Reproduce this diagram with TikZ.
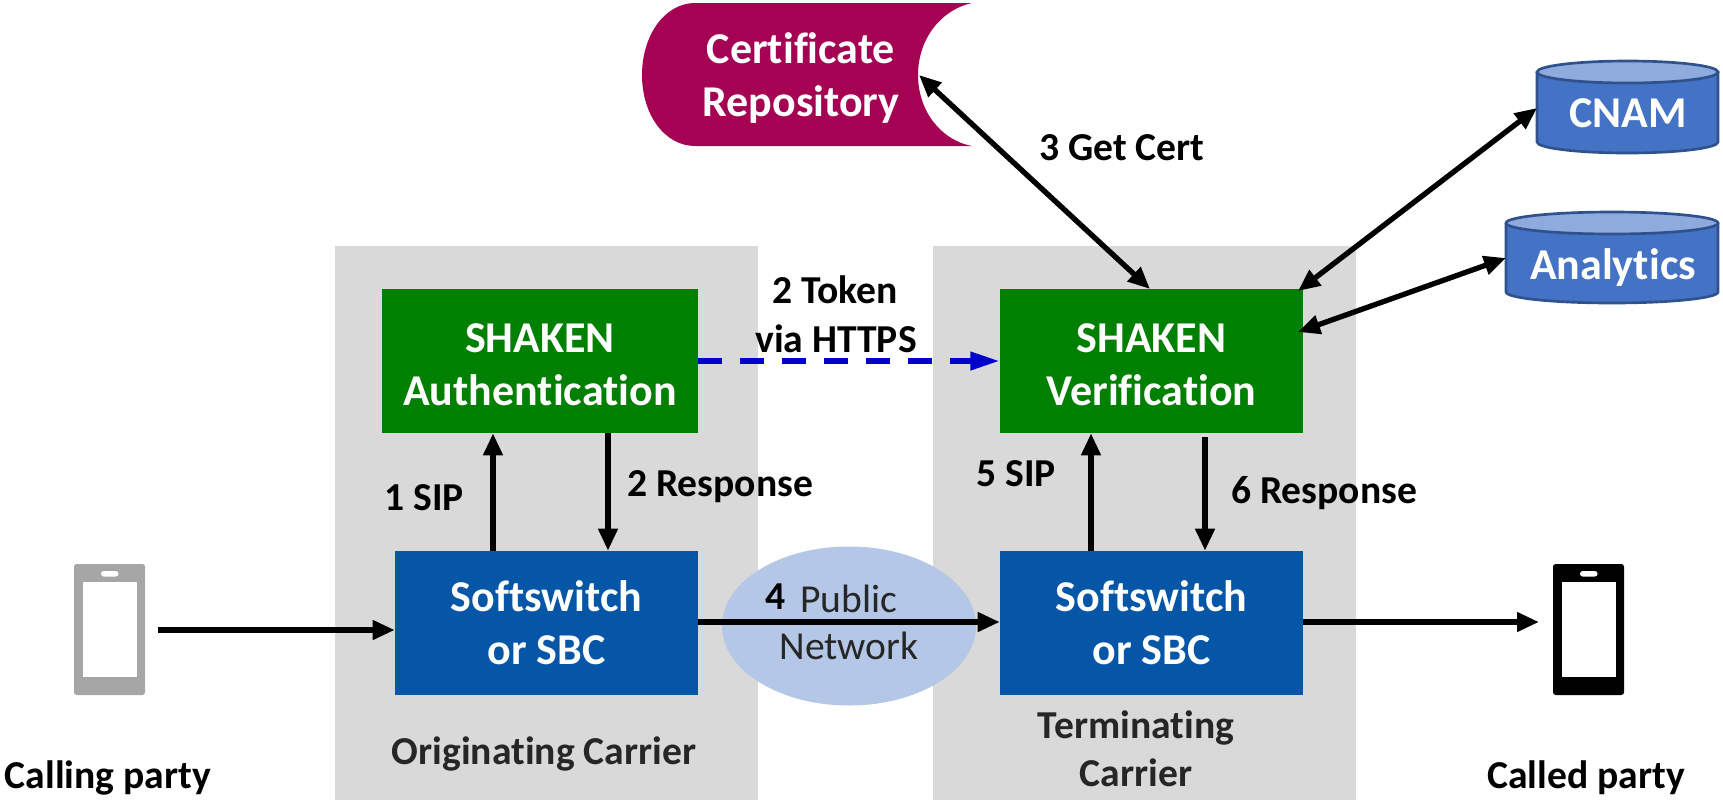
\documentclass[tikz,border=0pt]{standalone}
\usepackage{fontspec}
\setmainfont[Ligatures=NoCommon]{Carlito}
\usetikzlibrary{arrows.meta,shapes.geometric}
\definecolor{panel}{HTML}{D9D9D9}
\definecolor{gbox}{HTML}{008000}
\definecolor{bbox}{HTML}{0556A7}
\definecolor{repo}{HTML}{A50254}
\definecolor{cylf}{HTML}{4472C4}
\definecolor{cylt}{HTML}{8FAADC}
\definecolor{cyld}{HTML}{2F528F}
\definecolor{cloudc}{HTML}{B4C7E7}
\definecolor{phoneg}{HTML}{A6A6A6}
\definecolor{dashb}{HTML}{0000CC}
\newcommand{\lift}{\rule{0pt}{27pt}}
\tikzset{
  every node/.style={font=\fontsize{33}{34}\selectfont\bfseries, align=center, inner sep=0pt},
  panelbox/.style={fill=panel, minimum width=423*.75pt, minimum height=554*.75pt},
  greenbox/.style={fill=gbox, text=white, minimum height=144*.75pt},
  bluebox/.style={fill=bbox, text=white, minimum width=303*.75pt, minimum height=144*.75pt},
  lab/.style={text=black, font=\fontsize{29.7}{30}\selectfont\bfseries},
  labn/.style={text=black!85, font=\fontsize{29.7}{30}\selectfont},
  lab2/.style={text=black!85, font=\fontsize{29.7}{30}\selectfont\bfseries},
  conn/.style={line width=4pt, -{Triangle[length=16.5pt,width=14pt]}},
  both/.style={line width=4pt, {Triangle[length=16.5pt,width=14pt]}-{Triangle[length=16.5pt,width=14pt]}},
  cyl/.style={fill=cylf, draw=cyld, line width=2pt},
  cyltop/.style={fill=cylt, draw=cyld, line width=2pt}
}
\begin{document}
\begin{tikzpicture}[x=.75pt,y=-.75pt]
\useasboundingbox (0,0) rectangle (1723,800);
% panels
\node[panelbox] (orig) at (546.5,523) {};
\node[panelbox] (term) at (1144.5,523) {};
% cloud
\node[fill=cloudc, ellipse, minimum width=254*.75pt, minimum height=159*.75pt] (net) at (849,626) {};
% boxes
\node[greenbox, minimum width=316*.75pt] (auth) at (540,361) {\lift SHAKEN\\[6pt]Authentication};
\node[greenbox, minimum width=303*.75pt] (ver) at (1151.5,361) {\lift SHAKEN\\[6pt]Verification};
\node[bluebox] (sw1) at (546.5,623) {Softswitch\\[6pt]or SBC};
\node[bluebox] (sw2) at (1151.5,623) {Softswitch\\[6pt]or SBC};
% repository
\fill[repo] (972,3) -- (695,3) .. controls (665,3) and (642,35) .. (642,75)
  .. controls (642,115) and (665,146) .. (695,146) -- (972,146)
  .. controls (940,140) and (918,110) .. (918,75)
  .. controls (918,40) and (940,10) .. (972,3) -- cycle;
\node[text=white] (cert) at (801,78) {Certificate\\[6pt]Repository};
% CNAM
\draw[cyl] (1537,72) -- (1537,142) arc[start angle=180,end angle=0,x radius=90.5,y radius=11] -- (1718,72);
\draw[cyltop] (1627.5,72) ellipse[x radius=90.5,y radius=11];
\node[text=white] (cnam) at (1628,113) {CNAM};
% Analytics
\draw[cyl] (1506,223) -- (1506,292) arc[start angle=180,end angle=0,x radius=106,y radius=11] -- (1718,223);
\draw[cyltop] (1612,223) ellipse[x radius=106,y radius=11];
\node[text=white] (ana) at (1613,268) {Analytics};
% phones
\fill[phoneg, rounded corners=2pt] (74,564) rectangle (145,695);
\fill[white] (83,582) rectangle (137,677);
\fill[white, rounded corners=2pt] (101,571) rectangle (118.5,576.5);
\fill[black, rounded corners=2pt] (1553,564) rectangle (1624,695);
\fill[white] (1562,582) rectangle (1616,677);
\fill[white, rounded corners=2pt] (1580,571) rectangle (1597.5,576.5);
% named ends
\coordinate (pA) at (158,630);
\coordinate (pB) at (1539,622);
\coordinate (certEnd) at (919,75);
\coordinate (verTop) at (1150,289);
\coordinate (verCnam) at (1298,291);
\coordinate (verAna) at (1298,332);
\coordinate (cnamEnd) at (1537,108);
\coordinate (anaEnd) at (1506,258);
\coordinate (c1) at (493,0);
\coordinate (c2) at (608,0);
\coordinate (c5) at (1091,0);
\coordinate (c6) at (1205,0);
\coordinate (ld) at (0,361);
\coordinate (lm) at (0,622);
% connectors
\draw[conn] (pA) -- (sw1.west |- pA);
\draw[conn] (sw1.east |- lm) -- (sw2.west |- lm);
\draw[conn] (sw2.east |- lm) -- (pB);
\draw[conn] (sw1.north -| c1) -- (auth.south -| c1);
\draw[conn] (auth.south -| c2) -- (sw1.north -| c2);
\draw[conn] (sw2.north -| c5) -- (ver.south -| c5);
\draw[conn] ([yshift=-3pt]ver.south -| c6) -- (sw2.north -| c6);
\draw[both] (certEnd) -- (verTop);
\draw[both] (verCnam) -- (cnamEnd);
\draw[both] (verAna) -- (anaEnd);
\draw[line width=4.5pt, dashb, dash pattern=on 18pt off 13.5pt, -{Triangle[length=22pt,width=13pt]}] (auth.east |- ld) -- (ver.west |- ld);
% labels
\node[lab] (l3) at (1122,148) {3 Get Cert};
\node[lab] (l2a) at (835,290) {2 Token};
\node[lab] (l2b) at (836,339) {via HTTPS};
\node[lab] (l1) at (424,498) {1 SIP};
\node[lab] (l2r) at (720,487) {2 Response};
\node[lab] (l5) at (1016,474) {5 SIP};
\node[lab] (l6) at (1324,493) {6 Response};
\node[lab] (l4n) at (776,597) {4};
\node[labn] (l4p) at (849,599) {Public};
\node[labn] (l4w) at (849,646) {Network};
\node[lab2] (oc) at (544,754) {Originating Carrier};
\node[lab2] (tc) at (1136,728) {Terminating};
\node[lab2] (tc2) at (1136,773) {Carrier};
\node[lab] (cp) at (108,778) {Calling party};
\node[lab] (dp) at (1586,778) {Called party};
\end{tikzpicture}
\end{document}
